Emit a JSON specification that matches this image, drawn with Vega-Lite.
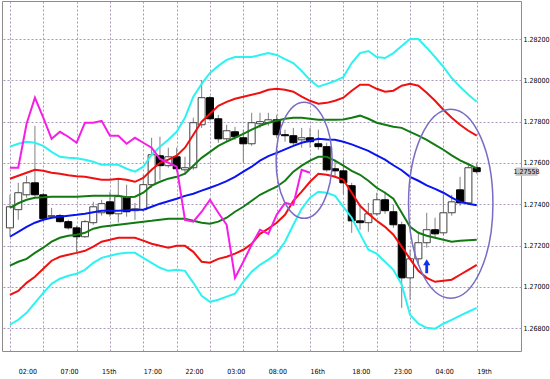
{
"$schema": "https://vega.github.io/schema/vega-lite/v6.json",
"width": 519, "height": 350,
"autosize": {"type": "none"},
"padding": {"left": 2, "top": 1, "right": 29, "bottom": 28},
"background": "#ffffff",
"config": {"view": {"stroke": "#8c8c8c", "strokeWidth": 1}},
"resolve": {"axis": {"x": "independent"}},
"datasets": {
"bars": [
{"i":0,"open":1.27286,"high":1.27446,"low":1.27248,"close":1.27388,"mid":1.27243,"up1":1.27383,"dn1":1.27103,"up2":1.27524,"dn2":1.26962,"up3":1.27679,"dn3":1.26817,"lag":1.27577},
{"i":1,"open":1.27374,"high":1.27504,"low":1.27325,"close":1.27456,"mid":1.27267,"up1":1.27405,"dn1":1.27122,"up2":1.27538,"dn2":1.26981,"up3":1.27693,"dn3":1.26841,"lag":1.27577},
{"i":2,"open":1.27446,"high":1.27538,"low":1.27432,"close":1.27504,"mid":1.27291,"up1":1.27422,"dn1":1.27136,"up2":1.27553,"dn2":1.27020,"up3":1.27703,"dn3":1.26875,"lag":1.27790},
{"i":3,"open":1.27504,"high":1.27780,"low":1.27437,"close":1.27446,"mid":1.27311,"up1":1.27432,"dn1":1.27165,"up2":1.27567,"dn2":1.27049,"up3":1.27698,"dn3":1.26923,"lag":1.27916},
{"i":4,"open":1.27446,"high":1.27456,"low":1.27316,"close":1.27330,"mid":1.27325,"up1":1.27434,"dn1":1.27190,"up2":1.27562,"dn2":1.27088,"up3":1.27683,"dn3":1.26971,"lag":1.27819},
{"i":5,"open":1.27340,"high":1.27383,"low":1.27330,"close":1.27345,"mid":1.27335,"up1":1.27437,"dn1":1.27219,"up2":1.27553,"dn2":1.27127,"up3":1.27654,"dn3":1.27015,"lag":1.27717},
{"i":6,"open":1.27345,"high":1.27354,"low":1.27311,"close":1.27316,"mid":1.27340,"up1":1.27437,"dn1":1.27238,"up2":1.27548,"dn2":1.27146,"up3":1.27630,"dn3":1.27040,"lag":1.27751},
{"i":7,"open":1.27316,"high":1.27325,"low":1.27277,"close":1.27286,"mid":1.27345,"up1":1.27437,"dn1":1.27248,"up2":1.27541,"dn2":1.27156,"up3":1.27625,"dn3":1.27054,"lag":1.27727},
{"i":8,"open":1.27286,"high":1.27296,"low":1.27165,"close":1.27243,"mid":1.27349,"up1":1.27437,"dn1":1.27253,"up2":1.27536,"dn2":1.27165,"up3":1.27623,"dn3":1.27064,"lag":1.27698},
{"i":9,"open":1.27243,"high":1.27325,"low":1.27238,"close":1.27316,"mid":1.27354,"up1":1.27439,"dn1":1.27262,"up2":1.27533,"dn2":1.27175,"up3":1.27616,"dn3":1.27083,"lag":1.27795},
{"i":10,"open":1.27311,"high":1.27412,"low":1.27301,"close":1.27388,"mid":1.27362,"up1":1.27441,"dn1":1.27282,"up2":1.27526,"dn2":1.27195,"up3":1.27606,"dn3":1.27117,"lag":1.27795},
{"i":11,"open":1.27359,"high":1.27422,"low":1.27345,"close":1.27403,"mid":1.27369,"up1":1.27441,"dn1":1.27291,"up2":1.27519,"dn2":1.27219,"up3":1.27591,"dn3":1.27141,"lag":1.27804},
{"i":12,"open":1.27412,"high":1.27461,"low":1.27340,"close":1.27354,"mid":1.27369,"up1":1.27441,"dn1":1.27296,"up2":1.27519,"dn2":1.27228,"up3":1.27591,"dn3":1.27151,"lag":1.27732},
{"i":13,"open":1.27354,"high":1.27519,"low":1.27311,"close":1.27437,"mid":1.27369,"up1":1.27441,"dn1":1.27301,"up2":1.27524,"dn2":1.27238,"up3":1.27591,"dn3":1.27161,"lag":1.27732},
{"i":14,"open":1.27432,"high":1.27495,"low":1.27340,"close":1.27364,"mid":1.27371,"up1":1.27434,"dn1":1.27306,"up2":1.27519,"dn2":1.27238,"up3":1.27572,"dn3":1.27165,"lag":1.27693},
{"i":15,"open":1.27369,"high":1.27407,"low":1.27325,"close":1.27378,"mid":1.27374,"up1":1.27437,"dn1":1.27311,"up2":1.27509,"dn2":1.27238,"up3":1.27558,"dn3":1.27165,"lag":1.27722},
{"i":16,"open":1.27374,"high":1.27543,"low":1.27364,"close":1.27495,"mid":1.27374,"up1":1.27456,"dn1":1.27316,"up2":1.27528,"dn2":1.27224,"up3":1.27582,"dn3":1.27141,"lag":1.27698},
{"i":17,"open":1.27495,"high":1.27722,"low":1.27480,"close":1.27640,"mid":1.27388,"up1":1.27490,"dn1":1.27320,"up2":1.27567,"dn2":1.27209,"up3":1.27640,"dn3":1.27117,"lag":1.27674},
{"i":18,"open":1.27635,"high":1.27727,"low":1.27519,"close":1.27587,"mid":1.27403,"up1":1.27509,"dn1":1.27325,"up2":1.27601,"dn2":1.27199,"up3":1.27679,"dn3":1.27093,"lag":1.27620},
{"i":19,"open":1.27587,"high":1.27674,"low":1.27577,"close":1.27630,"mid":1.27415,"up1":1.27524,"dn1":1.27330,"up2":1.27616,"dn2":1.27190,"up3":1.27712,"dn3":1.27078,"lag":1.27601},
{"i":20,"open":1.27630,"high":1.27674,"low":1.27558,"close":1.27572,"mid":1.27427,"up1":1.27533,"dn1":1.27330,"up2":1.27635,"dn2":1.27199,"up3":1.27751,"dn3":1.27083,"lag":1.27582},
{"i":21,"open":1.27567,"high":1.27630,"low":1.27543,"close":1.27577,"mid":1.27441,"up1":1.27548,"dn1":1.27330,"up2":1.27674,"dn2":1.27199,"up3":1.27819,"dn3":1.27078,"lag":1.27325},
{"i":22,"open":1.27577,"high":1.27819,"low":1.27567,"close":1.27795,"mid":1.27451,"up1":1.27587,"dn1":1.27320,"up2":1.27737,"dn2":1.27170,"up3":1.27921,"dn3":1.27020,"lag":1.27316},
{"i":23,"open":1.27785,"high":1.28002,"low":1.27770,"close":1.27916,"mid":1.27466,"up1":1.27625,"dn1":1.27311,"up2":1.27800,"dn2":1.27122,"up3":1.27983,"dn3":1.26957,"lag":1.27364},
{"i":24,"open":1.27916,"high":1.27925,"low":1.27804,"close":1.27814,"mid":1.27480,"up1":1.27654,"dn1":1.27306,"up2":1.27838,"dn2":1.27117,"up3":1.28036,"dn3":1.26928,"lag":1.27422},
{"i":25,"open":1.27814,"high":1.27833,"low":1.27698,"close":1.27717,"mid":1.27495,"up1":1.27683,"dn1":1.27316,"up2":1.27877,"dn2":1.27136,"up3":1.28070,"dn3":1.26938,"lag":1.27359},
{"i":26,"open":1.27717,"high":1.27785,"low":1.27703,"close":1.27756,"mid":1.27512,"up1":1.27703,"dn1":1.27335,"up2":1.27896,"dn2":1.27146,"up3":1.28099,"dn3":1.26953,"lag":1.27301},
{"i":27,"open":1.27751,"high":1.27775,"low":1.27712,"close":1.27727,"mid":1.27533,"up1":1.27722,"dn1":1.27364,"up2":1.27911,"dn2":1.27161,"up3":1.28113,"dn3":1.26967,"lag":1.27044},
{"i":28,"open":1.27722,"high":1.27761,"low":1.27601,"close":1.27693,"mid":1.27558,"up1":1.27741,"dn1":1.27388,"up2":1.27921,"dn2":1.27180,"up3":1.28113,"dn3":1.27025,"lag":1.27122},
{"i":29,"open":1.27693,"high":1.27843,"low":1.27683,"close":1.27795,"mid":1.27582,"up1":1.27761,"dn1":1.27417,"up2":1.27930,"dn2":1.27209,"up3":1.28113,"dn3":1.27074,"lag":1.27204},
{"i":30,"open":1.27790,"high":1.27843,"low":1.27770,"close":1.27800,"mid":1.27611,"up1":1.27780,"dn1":1.27446,"up2":1.27940,"dn2":1.27257,"up3":1.28123,"dn3":1.27107,"lag":1.27277},
{"i":31,"open":1.27795,"high":1.27843,"low":1.27780,"close":1.27809,"mid":1.27633,"up1":1.27795,"dn1":1.27466,"up2":1.27954,"dn2":1.27282,"up3":1.28132,"dn3":1.27132,"lag":1.27257},
{"i":32,"open":1.27809,"high":1.27833,"low":1.27722,"close":1.27737,"mid":1.27649,"up1":1.27804,"dn1":1.27485,"up2":1.27959,"dn2":1.27311,"up3":1.28123,"dn3":1.27161,"lag":1.27349},
{"i":33,"open":1.27737,"high":1.27761,"low":1.27703,"close":1.27732,"mid":1.27666,"up1":1.27814,"dn1":1.27514,"up2":1.27954,"dn2":1.27349,"up3":1.28103,"dn3":1.27219,"lag":1.27407},
{"i":34,"open":1.27732,"high":1.27770,"low":1.27688,"close":1.27698,"mid":1.27683,"up1":1.27819,"dn1":1.27558,"up2":1.27945,"dn2":1.27417,"up3":1.28084,"dn3":1.27301,"lag":1.27398},
{"i":35,"open":1.27712,"high":1.27770,"low":1.27674,"close":1.27722,"mid":1.27698,"up1":1.27819,"dn1":1.27587,"up2":1.27921,"dn2":1.27461,"up3":1.28045,"dn3":1.27378,"lag":1.27567},
{"i":36,"open":1.27722,"high":1.27770,"low":1.27674,"close":1.27703,"mid":1.27708,"up1":1.27814,"dn1":1.27611,"up2":1.27901,"dn2":1.27509,"up3":1.28002,"dn3":1.27432,"lag":1.27553},
{"i":37,"open":1.27693,"high":1.27761,"low":1.27664,"close":1.27679,"mid":1.27717,"up1":1.27809,"dn1":1.27630,"up2":1.27887,"dn2":1.27548,"up3":1.27969,"dn3":1.27461},
{"i":38,"open":1.27679,"high":1.27698,"low":1.27558,"close":1.27567,"mid":1.27714,"up1":1.27809,"dn1":1.27630,"up2":1.27891,"dn2":1.27543,"up3":1.27983,"dn3":1.27456},
{"i":39,"open":1.27572,"high":1.27616,"low":1.27528,"close":1.27562,"mid":1.27712,"up1":1.27809,"dn1":1.27611,"up2":1.27901,"dn2":1.27533,"up3":1.27997,"dn3":1.27441},
{"i":40,"open":1.27562,"high":1.27616,"low":1.27446,"close":1.27504,"mid":1.27703,"up1":1.27811,"dn1":1.27587,"up2":1.27916,"dn2":1.27519,"up3":1.28016,"dn3":1.27388},
{"i":41,"open":1.27490,"high":1.27504,"low":1.27262,"close":1.27320,"mid":1.27690,"up1":1.27819,"dn1":1.27562,"up2":1.27950,"dn2":1.27456,"up3":1.28084,"dn3":1.27335},
{"i":42,"open":1.27320,"high":1.27388,"low":1.27277,"close":1.27311,"mid":1.27674,"up1":1.27829,"dn1":1.27543,"up2":1.27979,"dn2":1.27393,"up3":1.28132,"dn3":1.27257},
{"i":43,"open":1.27311,"high":1.27407,"low":1.27267,"close":1.27354,"mid":1.27659,"up1":1.27814,"dn1":1.27514,"up2":1.27979,"dn2":1.27354,"up3":1.28142,"dn3":1.27180},
{"i":44,"open":1.27354,"high":1.27456,"low":1.27345,"close":1.27422,"mid":1.27637,"up1":1.27795,"dn1":1.27480,"up2":1.27959,"dn2":1.27320,"up3":1.28113,"dn3":1.27161},
{"i":45,"open":1.27422,"high":1.27461,"low":1.27354,"close":1.27369,"mid":1.27616,"up1":1.27785,"dn1":1.27456,"up2":1.27945,"dn2":1.27291,"up3":1.28108,"dn3":1.27122},
{"i":46,"open":1.27364,"high":1.27398,"low":1.27286,"close":1.27301,"mid":1.27589,"up1":1.27775,"dn1":1.27427,"up2":1.27950,"dn2":1.27253,"up3":1.28132,"dn3":1.27083},
{"i":47,"open":1.27301,"high":1.27316,"low":1.26899,"close":1.27044,"mid":1.27565,"up1":1.27770,"dn1":1.27359,"up2":1.27974,"dn2":1.27195,"up3":1.28166,"dn3":1.27011},
{"i":48,"open":1.27044,"high":1.27180,"low":1.26938,"close":1.27136,"mid":1.27533,"up1":1.27751,"dn1":1.27291,"up2":1.27983,"dn2":1.27136,"up3":1.28200,"dn3":1.26865},
{"i":49,"open":1.27136,"high":1.27267,"low":1.27107,"close":1.27214,"mid":1.27514,"up1":1.27732,"dn1":1.27262,"up2":1.27974,"dn2":1.27078,"up3":1.28200,"dn3":1.26822},
{"i":50,"open":1.27214,"high":1.27359,"low":1.27190,"close":1.27277,"mid":1.27492,"up1":1.27712,"dn1":1.27248,"up2":1.27940,"dn2":1.27044,"up3":1.28158,"dn3":1.26802},
{"i":51,"open":1.27277,"high":1.27335,"low":1.27238,"close":1.27257,"mid":1.27475,"up1":1.27688,"dn1":1.27238,"up2":1.27901,"dn2":1.27025,"up3":1.28113,"dn3":1.26798},
{"i":52,"open":1.27262,"high":1.27446,"low":1.27248,"close":1.27359,"mid":1.27456,"up1":1.27664,"dn1":1.27228,"up2":1.27858,"dn2":1.27030,"up3":1.28065,"dn3":1.26822},
{"i":53,"open":1.27359,"high":1.27446,"low":1.27345,"close":1.27412,"mid":1.27432,"up1":1.27637,"dn1":1.27219,"up2":1.27819,"dn2":1.27035,"up3":1.28011,"dn3":1.26841},
{"i":54,"open":1.27470,"high":1.27533,"low":1.27393,"close":1.27407,"mid":1.27412,"up1":1.27613,"dn1":1.27224,"up2":1.27785,"dn2":1.27059,"up3":1.27969,"dn3":1.26861},
{"i":55,"open":1.27407,"high":1.27601,"low":1.27398,"close":1.27577,"mid":1.27403,"up1":1.27594,"dn1":1.27226,"up2":1.27756,"dn2":1.27083,"up3":1.27930,"dn3":1.26880},
{"i":56,"open":1.27577,"high":1.27601,"low":1.27548,"close":1.27558,"mid":1.27395,"up1":1.27574,"dn1":1.27228,"up2":1.27732,"dn2":1.27107,"up3":1.27896,"dn3":1.26899}
]
},
"layer": [
{"data": {"name": "bars"}, "mark": {"type": "rule", "color": "#808080", "strokeWidth": 1},
 "encoding": {
  "x": {"field": "i", "type": "quantitative", "title": null, "scale": {"domain": [-0.35, 60.71], "nice": false, "zero": false},
   "axis": {"orient": "top", "values": [0,4,8,12,16,20,24,28,32,36,40,44,48,52,56],
    "grid": true, "gridColor": "#a898b8", "gridDash": [2, 2], "gridWidth": 1,
    "ticks": false, "domain": false, "labels": false}},
  "y": {"field": "low", "type": "quantitative", "title": null, "scale": {"domain": [1.2669, 1.28384], "nice": false, "zero": false},
   "axis": {"orient": "right", "values": [1.268, 1.27, 1.272, 1.274, 1.276, 1.278, 1.28, 1.282], "format": ".5f",
    "grid": true, "gridColor": "#a898b8", "gridDash": [2, 2], "gridWidth": 1, "ticks": false, "domain": false,
    "labelPadding": 2, "labelBaseline": "middle", "labelOverlap": false, "labelBound": false, "labelFontSize": 7,
    "labelFont": "Liberation Sans Narrow, DejaVu Sans Condensed, sans-serif", "labelColor": "#000000"}},
  "y2": {"field": "high"}
 }},
{"data": {"name": "bars"}, "mark": {"type": "bar", "width": 7, "strokeWidth": 1},
 "encoding": {
  "x": {"field": "i", "type": "quantitative", "title": null,
   "axis": {"orient": "bottom", "values": [1,6,11,16,21,26,31,36,41,46,51,56],
    "labelExpr": "datum.value == 1 ? '02:00' : datum.value == 6 ? '07:00' : datum.value == 11 ? '15th' : datum.value == 16 ? '17:00' : datum.value == 21 ? '22:00' : datum.value == 26 ? '03:00' : datum.value == 31 ? '08:00' : datum.value == 36 ? '16th' : datum.value == 41 ? '18:00' : datum.value == 46 ? '23:00' : datum.value == 51 ? '04:00' : '19th'",
    "grid": false, "ticks": false, "domain": false, "labelAlign": "left", "labelBaseline": "top", "labelPadding": 16,
    "labelOverlap": false, "labelFontSize": 7,
    "labelFont": "Liberation Sans Narrow, DejaVu Sans Condensed, sans-serif", "labelColor": "#000000"}},
  "y": {"field": "open", "type": "quantitative", "title": null},
  "y2": {"field": "close"},
  "fill": {"condition": {"test": "datum.close < datum.open", "value": "#000000"}, "value": "#ffffff"},
  "stroke": {"condition": {"test": "datum.close < datum.open", "value": "#000000"}, "value": "#404040"}
 }},
{"data": {"name": "bars"}, "mark": {"type": "line", "color": "#2ef2f2", "strokeWidth": 2},
 "encoding": {"x": {"field": "i", "type": "quantitative", "axis": null}, "y": {"field": "up3", "type": "quantitative", "title": null}}},
{"data": {"name": "bars"}, "mark": {"type": "line", "color": "#2ef2f2", "strokeWidth": 2},
 "encoding": {"x": {"field": "i", "type": "quantitative", "axis": null}, "y": {"field": "dn3", "type": "quantitative", "title": null}}},
{"data": {"name": "bars"}, "mark": {"type": "line", "color": "#f01010", "strokeWidth": 2},
 "encoding": {"x": {"field": "i", "type": "quantitative", "axis": null}, "y": {"field": "up2", "type": "quantitative", "title": null}}},
{"data": {"name": "bars"}, "mark": {"type": "line", "color": "#f01010", "strokeWidth": 2},
 "encoding": {"x": {"field": "i", "type": "quantitative", "axis": null}, "y": {"field": "dn2", "type": "quantitative", "title": null}}},
{"data": {"name": "bars"}, "mark": {"type": "line", "color": "#127a12", "strokeWidth": 2},
 "encoding": {"x": {"field": "i", "type": "quantitative", "axis": null}, "y": {"field": "up1", "type": "quantitative", "title": null}}},
{"data": {"name": "bars"}, "mark": {"type": "line", "color": "#127a12", "strokeWidth": 2},
 "encoding": {"x": {"field": "i", "type": "quantitative", "axis": null}, "y": {"field": "dn1", "type": "quantitative", "title": null}}},
{"data": {"name": "bars"}, "mark": {"type": "line", "color": "#0a14f0", "strokeWidth": 2},
 "encoding": {"x": {"field": "i", "type": "quantitative", "axis": null}, "y": {"field": "mid", "type": "quantitative", "title": null}}},
{"data": {"name": "bars"}, "mark": {"type": "line", "color": "#f51ee6", "strokeWidth": 2},
 "encoding": {"x": {"field": "i", "type": "quantitative", "axis": null}, "y": {"field": "lag", "type": "quantitative", "title": null}}},
{"data": {"values": [{"i": 35.29, "price": 1.27613}]},
 "mark": {"type": "point", "filled": false, "stroke": "#7a6cc4", "strokeWidth": 1.5, "opacity": 1, "size": 13456,
  "shape": "M-0.483,0A0.483,1,0,1,0,0.483,0A0.483,1,0,1,0,-0.483,0Z"},
 "encoding": {"x": {"field": "i", "type": "quantitative", "axis": null}, "y": {"field": "price", "type": "quantitative", "title": null}}},
{"data": {"values": [{"i": 52.88, "price": 1.27403}]},
 "mark": {"type": "point", "filled": false, "stroke": "#7a6cc4", "strokeWidth": 1.5, "opacity": 1, "size": 35721,
  "shape": "M-0.4466,0A0.4466,1,0,1,0,0.4466,0A0.4466,1,0,1,0,-0.4466,0Z"},
 "encoding": {"x": {"field": "i", "type": "quantitative", "axis": null}, "y": {"field": "price", "type": "quantitative", "title": null}}},
{"data": {"values": [{"i": 50, "price": 1.271}]},
 "mark": {"type": "point", "filled": true, "color": "#1030f0", "opacity": 1, "size": 196,
  "shape": "M0,-1L0.52,-0.15L0.2,-0.15L0.2,1L-0.2,1L-0.2,-0.15L-0.52,-0.15Z"},
 "encoding": {"x": {"field": "i", "type": "quantitative", "axis": null}, "y": {"field": "price", "type": "quantitative", "title": null}}},
{"data": {"values": [{"price": 1.27558}]},
 "mark": {"type": "point", "filled": true, "color": "#c4c4c4", "opacity": 1, "size": 484,
  "shape": "M-1,-0.38L1,-0.38L1,0.38L-1,0.38Z"},
 "encoding": {"x": {"datum": 61.97, "type": "quantitative", "axis": null}, "y": {"field": "price", "type": "quantitative", "title": null}}},
{"data": {"values": [{"price": 1.27558}]},
 "mark": {"type": "text", "align": "center", "baseline": "middle", "fontSize": 7, "font": "Liberation Sans Narrow, DejaVu Sans Condensed, sans-serif", "color": "#000000"},
 "encoding": {"x": {"datum": 61.97, "type": "quantitative", "axis": null}, "y": {"field": "price", "type": "quantitative", "title": null},
  "text": {"field": "price", "type": "quantitative", "format": ".5f"}}}
]
}
